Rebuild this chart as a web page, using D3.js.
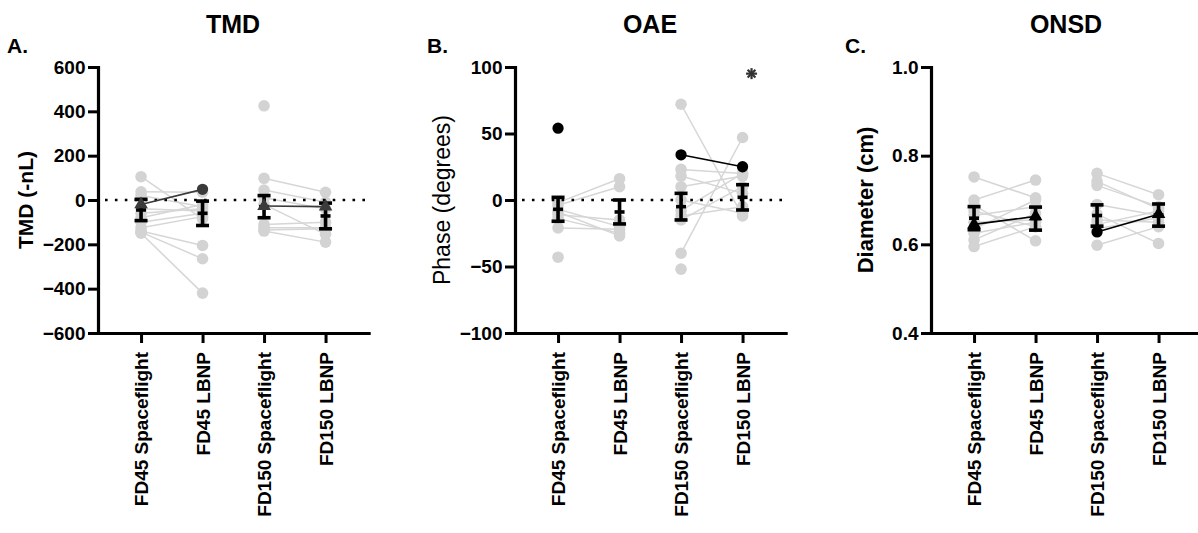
<!DOCTYPE html>
<html>
<head>
<meta charset="utf-8">
<script src="https://cdn.jsdelivr.net/npm/d3@7"></script>
<style>
  html, body { margin: 0; padding: 0; background: #ffffff; }
  svg { display: block; }
  text { font-family: "Liberation Sans", Arial, sans-serif; fill: #000; }
</style>
</head>
<body>
<script>
// ---------- DATA ----------
const categories = ["FD45 Spaceflight", "FD45 LBNP", "FD150 Spaceflight", "FD150 LBNP"];

// Panel A: TMD (-nL) — paired subjects (same index = same subject)
const tmdFD45SF    = [105, 37, 20, -40, -60, -80, -100, -125, -140, -145, -150];
const tmdFD45LBNP  = [-85, 35, -30, -50, -40, -20, -60, -75, -205, -265, -420];
const tmdFD150SF   = [425, 98, 45, 10, -20, -110, -125, -135, -140];
const tmdFD150LBNP = [null, 35, -10, -40, -155, -100, -125, -130, -190];
const tmdHighlight = [-20, 48, -27, -30];
const tmdMean = [-45, -60, -30, -72];
const tmdErr  = [48, 55, 50, 58];
const tmdTicks = [-600, -400, -200, 0, 200, 400, 600];

// Panel B: OAE phase (degrees)
const oaeFD45SF    = [-2, -4, -7, -9, -11, -14, -21, -43];
const oaeFD45LBNP  = [16, 10, -20, -27, -15, -25, -22, null];
const oaeFD150SF   = [72, 23, 18, 10, 0, -8, -12, -15, -40, -52];
const oaeFD150LBNP = [-12, 20, 5, 18, -10, 20, -5, 10, 47, null];
const oaeHighlight = [54, null, 34, 25];
const oaeMean = [-7, -9, -5, 2];
const oaeErr  = [9, 9, 10, 9.5];
const oaeTicks = [-100, -50, 0, 50, 100];

// Panel C: ONSD diameter (cm)
const onsdFD45SF    = [0.752, 0.700, 0.688, 0.675, 0.665, 0.650, 0.635, 0.625, 0.610, 0.595];
const onsdFD45LBNP  = [0.705, 0.745, 0.608, 0.640, 0.685, 0.655, 0.700, 0.650, 0.670, 0.640];
const onsdFD150SF   = [0.760, 0.742, 0.733, 0.690, 0.668, 0.655, 0.645, 0.635, 0.598];
const onsdFD150LBNP = [0.712, 0.680, 0.685, 0.665, 0.602, 0.650, 0.675, 0.660, 0.640];
const onsdHighlight = [0.645, 0.663, 0.628, 0.668];
const onsdMean = [0.659, 0.658, 0.665, 0.666];
const onsdErr  = [0.026, 0.026, 0.024, 0.025];
const onsdTicks = [0.4, 0.6, 0.8, 1.0];

// ---------- DRAWING ----------
const W = 1198, H = 533;
const TOP = 67, BOTTOM = 333;
const svg = d3.select("body").append("svg").attr("width", W).attr("height", H);

const GRAY = "#d3d3d3";
const GRAY_LINE = "#d6d6d6";

function drawPanel(cfg) {
  const g = svg.append("g");
  const x0 = cfg.x0;
  const x = d3.scalePoint().domain(categories).range([x0, x0 + 270.6]).padding(0.7);
  const y = d3.scaleLinear().domain(cfg.yDomain).range([BOTTOM, TOP]);

  // Title and letter
  g.append("text").attr("x", x0 + 135).attr("y", 33).attr("text-anchor", "middle")
    .style("font-size", "25px").style("font-weight", "bold").text(cfg.title);
  g.append("text").attr("x", cfg.letterX).attr("y", 53)
    .style("font-size", "21px").style("font-weight", "bold").text(cfg.letter);

  // Y label
  g.append("text").attr("transform", `translate(${cfg.ylabelX},200) rotate(-90)`)
    .attr("text-anchor", "middle").attr("dy", "0.35em")
    .style("font-size", cfg.ylabelSize + "px").style("font-weight", cfg.ylabelWeight)
    .text(cfg.ylabel);

  // Paired gray lines and dots
  const pairs = [[0, 1, cfg.d45sf, cfg.d45lb], [2, 3, cfg.d150sf, cfg.d150lb]];
  pairs.forEach(([ia, ib, A, B]) => {
    const xa = x(categories[ia]), xb = x(categories[ib]);
    A.forEach((v, i) => {
      const w = B[i];
      if (v != null && w != null) {
        g.append("line").attr("x1", xa).attr("y1", y(v)).attr("x2", xb).attr("y2", y(w))
          .attr("stroke", GRAY_LINE).attr("stroke-width", 1.5);
      }
    });
  });
  pairs.forEach(([ia, ib, A, B]) => {
    [[ia, A], [ib, B]].forEach(([ci, arr]) => {
      g.selectAll(null).data(arr.filter(v => v != null)).enter().append("circle")
        .attr("cx", x(categories[ci])).attr("cy", d => y(d)).attr("r", 5.8)
        .attr("fill", GRAY);
    });
  });

  // Dotted zero line
  if (cfg.zeroLine) {
    g.append("line").attr("x1", x0 + 7).attr("x2", x0 + 270.6).attr("y1", y(0)).attr("y2", y(0))
      .attr("stroke", "#000").attr("stroke-width", 2.6).attr("stroke-dasharray", "2.6,7.3");
  }

  // Error bars (mean ± error)
  cfg.mean.forEach((m, i) => {
    const cx = x(categories[i]);
    const e = cfg.err[i];
    const eg = g.append("g").attr("stroke", "#000").attr("stroke-width", 3.6);
    eg.append("line").attr("x1", cx).attr("x2", cx).attr("y1", y(m + e)).attr("y2", y(m - e));
    eg.append("line").attr("x1", cx - 6.5).attr("x2", cx + 6.5).attr("y1", y(m + e)).attr("y2", y(m + e));
    eg.append("line").attr("x1", cx - 6.5).attr("x2", cx + 6.5).attr("y1", y(m - e)).attr("y2", y(m - e));
    eg.append("line").attr("x1", cx - 5).attr("x2", cx + 5).attr("y1", y(m)).attr("y2", y(m));
  });

  // Highlighted subject
  const hl = cfg.highlight;
  [[0, 1], [2, 3]].forEach(([a, b]) => {
    if (hl[a] != null && hl[b] != null) {
      g.append("line").attr("x1", x(categories[a])).attr("y1", y(hl[a]))
        .attr("x2", x(categories[b])).attr("y2", y(hl[b]))
        .attr("stroke", cfg.hlColor).attr("stroke-width", 1.6);
    }
  });
  hl.forEach((v, i) => {
    if (v == null) return;
    const shape = cfg.hlShapes[i] === "triangle" ? d3.symbolTriangle : d3.symbolCircle;
    const size = cfg.hlShapes[i] === "triangle" ? 80 : 100;
    g.append("path").attr("d", d3.symbol().type(shape).size(size)())
      .attr("transform", `translate(${x(categories[i])},${y(v)})`)
      .attr("fill", cfg.hlColor);
  });

  // Axes
  const ya = g.append("g").attr("transform", `translate(${x0},0)`)
    .call(d3.axisLeft(y).tickValues(cfg.yTicks).tickFormat(cfg.fmt)
      .tickSize(10).tickSizeOuter(0).tickPadding(2.5));
  const xa = g.append("g").attr("transform", `translate(0,${BOTTOM})`)
    .call(d3.axisBottom(x).tickSize(10).tickSizeOuter(0));
  [ya, xa].forEach(a => {
    a.attr("font-size", 19).attr("font-weight", "bold")
      .attr("font-family", '"Liberation Sans", Arial, sans-serif');
    a.select(".domain").attr("stroke", "#000").attr("stroke-width", 3.2).attr("stroke-linecap", "square");
    a.selectAll(".tick line").attr("stroke", "#000").attr("stroke-width", 3);
    a.selectAll("text").style("font-size", "19px").style("font-weight", "bold")
      .style("font-family", '"Liberation Sans", Arial, sans-serif').attr("fill", "#000");
  });
  xa.selectAll(".tick text").attr("transform", "rotate(-90)")
    .attr("text-anchor", "end").attr("x", -19).attr("y", 0).attr("dy", "0.35em");

  // Significance asterisk
  if (cfg.asterisk) {
    const [ci, val] = cfg.asterisk;
    const ax = x(categories[ci]) + 9, ay = y(val);
    const ag = g.append("g").attr("transform", `translate(${ax},${ay})`)
      .attr("stroke", "#333").attr("stroke-width", 2.2);
    [0, 45, 90, 135].forEach(a => {
      const r = 5.5, t = a * Math.PI / 180;
      ag.append("line").attr("x1", -r * Math.cos(t)).attr("y1", -r * Math.sin(t))
        .attr("x2", r * Math.cos(t)).attr("y2", r * Math.sin(t));
    });
  }
}

drawPanel({
  x0: 98, yDomain: [-600, 600], yTicks: tmdTicks, fmt: d3.format("d"),
  d45sf: tmdFD45SF, d45lb: tmdFD45LBNP, d150sf: tmdFD150SF, d150lb: tmdFD150LBNP,
  highlight: tmdHighlight, hlShapes: ["triangle", "circle", "triangle", "triangle"], hlColor: "#3a3a3a",
  mean: tmdMean, err: tmdErr, title: "TMD", letter: "A.", letterX: 7,
  ylabel: "TMD (-nL)", ylabelSize: 21, ylabelWeight: "bold", ylabelX: 26, zeroLine: true
});

drawPanel({
  x0: 515, yDomain: [-100, 100], yTicks: oaeTicks, fmt: d3.format("d"),
  d45sf: oaeFD45SF, d45lb: oaeFD45LBNP, d150sf: oaeFD150SF, d150lb: oaeFD150LBNP,
  highlight: oaeHighlight, hlShapes: ["circle", "circle", "circle", "circle"], hlColor: "#000",
  mean: oaeMean, err: oaeErr, title: "OAE", letter: "B.", letterX: 427,
  ylabel: "Phase (degrees)", ylabelSize: 23, ylabelWeight: "normal", ylabelX: 442, zeroLine: true,
  asterisk: [3, 95]
});

drawPanel({
  x0: 931, yDomain: [0.4, 1.0], yTicks: onsdTicks, fmt: d3.format(".1f"),
  d45sf: onsdFD45SF, d45lb: onsdFD45LBNP, d150sf: onsdFD150SF, d150lb: onsdFD150LBNP,
  highlight: onsdHighlight, hlShapes: ["triangle", "triangle", "circle", "triangle"], hlColor: "#000",
  mean: onsdMean, err: onsdErr, title: "ONSD", letter: "C.", letterX: 845,
  ylabel: "Diameter (cm)", ylabelSize: 22, ylabelWeight: "bold", ylabelX: 865, zeroLine: false
});
</script>
</body>
</html>
